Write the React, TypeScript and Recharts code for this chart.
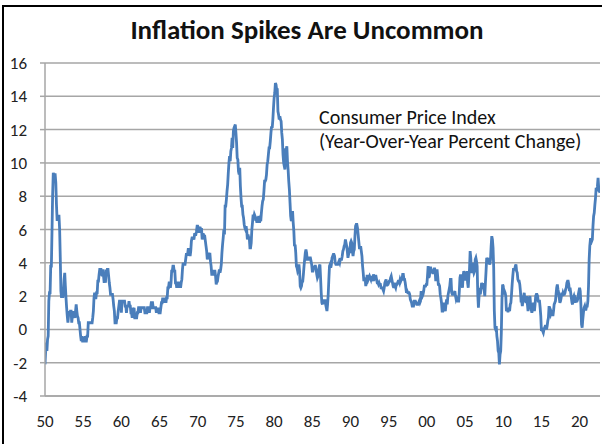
import { LineChart, Line, XAxis, YAxis, CartesianGrid } from 'recharts';

// CPI year-over-year % change, monthly, one array per decade (Jan..Dec)
const cpi1950s = [
  -2.1, -1.3, -0.8, -1.3, -0.6, -0.4, 1.7, 2.2, 2.2, 3.8, 3.8, 5.9,
  8.1, 9.4, 9.3, 9.3, 9.3, 8.8, 7.5, 6.6, 6.6, 6.8, 6.8, 6.0,
  4.3, 2.3, 1.9, 2.3, 1.9, 2.3, 3.0, 3.4, 2.6, 1.9, 1.3, 0.8,
  0.4, 0.8, 1.1, 0.8, 1.1, 1.1, 0.4, 0.8, 0.8, 1.1, 0.8, 0.7,
  1.1, 1.5, 1.1, 0.8, 0.7, 0.4, 0.4, 0.0, -0.4, -0.7, -0.4, -0.7,
  -0.7, -0.7, -0.7, -0.4, -0.7, -0.7, -0.4, -0.4, 0.4, 0.4, 0.4, 0.4,
  0.4, 0.4, 0.4, 0.7, 1.1, 1.9, 2.2, 1.9, 1.9, 2.2, 2.2, 2.9,
  2.9, 3.3, 3.6, 3.6, 3.6, 3.3, 3.2, 3.6, 3.2, 2.8, 3.2, 2.8,
  3.6, 3.2, 3.6, 3.6, 3.2, 2.8, 2.5, 2.1, 2.1, 2.1, 2.1, 1.8,
  1.4, 1.1, 0.4, 0.4, 0.4, 0.7, 0.7, 1.1, 1.4, 1.7, 1.7, 1.7,
];
const cpi1960s = [
  1.0, 1.7, 1.7, 1.7, 1.7, 1.7, 1.4, 1.4, 1.0, 1.4, 1.4, 1.4,
  1.7, 1.4, 1.4, 1.0, 1.0, 0.7, 1.3, 1.0, 1.3, 0.7, 0.7, 0.7,
  0.7, 1.0, 1.0, 1.3, 1.3, 1.3, 1.0, 1.3, 1.3, 1.3, 1.3, 1.3,
  1.3, 1.0, 1.0, 1.0, 1.0, 1.3, 1.3, 1.3, 1.0, 1.3, 1.3, 1.6,
  1.6, 1.6, 1.3, 1.3, 1.3, 1.3, 1.3, 1.0, 1.3, 1.0, 1.3, 1.0,
  1.0, 1.0, 1.3, 1.6, 1.6, 1.9, 1.6, 1.9, 1.6, 1.9, 1.6, 1.9,
  1.9, 2.5, 2.5, 2.8, 2.8, 2.5, 2.8, 3.5, 3.5, 3.8, 3.8, 3.5,
  3.5, 2.8, 2.8, 2.5, 2.8, 2.8, 2.8, 2.5, 2.8, 2.5, 2.8, 3.0,
  3.6, 4.0, 3.9, 3.9, 3.9, 4.2, 4.5, 4.5, 4.5, 4.8, 4.8, 4.7,
  4.4, 4.7, 5.3, 5.5, 5.5, 5.5, 5.4, 5.7, 5.7, 5.7, 5.9, 6.2,
];
const cpi1970s = [
  6.2, 6.1, 5.8, 6.1, 6.1, 6.0, 6.0, 5.4, 5.7, 5.7, 5.6, 5.6,
  5.3, 5.0, 4.7, 4.2, 4.4, 4.6, 4.4, 4.6, 4.1, 3.8, 3.3, 3.3,
  3.3, 3.5, 3.5, 3.5, 3.2, 2.7, 2.9, 2.9, 3.2, 3.4, 3.6, 3.4,
  3.6, 3.9, 4.6, 5.1, 5.5, 6.0, 5.7, 7.4, 7.4, 7.8, 8.3, 8.7,
  9.4, 10.0, 10.4, 10.1, 10.7, 10.9, 11.5, 10.9, 11.9, 12.1, 12.2, 12.3,
  11.8, 11.2, 10.3, 10.2, 9.5, 9.3, 9.7, 8.6, 7.9, 7.4, 7.4, 6.9,
  6.7, 6.3, 6.1, 6.0, 6.2, 5.9, 5.4, 5.7, 5.5, 5.5, 4.9, 4.9,
  5.2, 6.0, 6.4, 6.9, 6.7, 6.9, 6.8, 6.6, 6.6, 6.4, 6.7, 6.7,
  6.8, 6.4, 6.6, 6.5, 7.0, 7.4, 7.7, 7.8, 8.3, 8.9, 8.9, 9.0,
  9.3, 9.9, 10.1, 10.5, 10.9, 10.9, 11.3, 11.8, 12.2, 12.1, 12.6, 13.3,
];
const cpi1980s = [
  13.9, 14.2, 14.8, 14.7, 14.4, 14.4, 13.1, 12.9, 12.6, 12.8, 12.6, 12.5,
  11.8, 11.4, 10.5, 10.0, 9.8, 9.6, 10.8, 10.8, 11.0, 10.1, 9.6, 8.9,
  8.4, 7.6, 6.8, 6.5, 6.7, 7.1, 6.4, 5.9, 5.0, 5.1, 4.6, 3.8,
  3.7, 3.5, 3.6, 3.9, 3.5, 2.6, 2.5, 2.6, 2.9, 2.9, 3.3, 3.8,
  4.2, 4.6, 4.8, 4.6, 4.2, 4.2, 4.2, 4.3, 4.3, 4.3, 4.1, 3.9,
  3.5, 3.5, 3.7, 3.7, 3.8, 3.8, 3.6, 3.3, 3.1, 3.2, 3.5, 3.8,
  3.9, 3.1, 2.2, 1.6, 1.5, 1.8, 1.6, 1.6, 1.8, 1.5, 1.3, 1.1,
  1.5, 2.1, 3.0, 3.8, 3.9, 3.7, 3.9, 4.3, 4.4, 4.5, 4.5, 4.4,
  4.0, 3.9, 3.9, 3.9, 3.9, 4.0, 4.1, 4.0, 4.2, 4.2, 4.2, 4.4,
  4.7, 4.8, 5.0, 5.1, 5.4, 5.2, 5.0, 4.7, 4.3, 4.5, 4.7, 4.6,
];
const cpi1990s = [
  5.2, 5.3, 5.2, 4.7, 4.4, 4.7, 4.8, 5.6, 6.2, 6.3, 6.3, 6.1,
  5.7, 5.3, 4.9, 4.9, 5.0, 4.7, 4.4, 3.8, 3.4, 2.9, 3.0, 3.1,
  2.6, 2.8, 3.2, 3.2, 3.0, 3.1, 3.2, 3.1, 3.0, 3.2, 3.0, 2.9,
  3.3, 3.2, 3.1, 3.2, 3.2, 3.0, 2.8, 2.8, 2.7, 2.8, 2.7, 2.7,
  2.5, 2.5, 2.5, 2.4, 2.3, 2.5, 2.8, 2.9, 3.0, 2.6, 2.7, 2.7,
  2.8, 2.9, 2.9, 3.1, 3.2, 3.0, 2.8, 2.6, 2.5, 2.8, 2.6, 2.5,
  2.7, 2.7, 2.8, 2.9, 2.9, 2.8, 3.0, 2.9, 3.0, 3.0, 3.3, 3.3,
  3.0, 3.0, 2.8, 2.5, 2.2, 2.3, 2.2, 2.2, 2.2, 2.1, 1.8, 1.7,
  1.6, 1.4, 1.4, 1.4, 1.7, 1.7, 1.7, 1.6, 1.5, 1.5, 1.5, 1.6,
  1.7, 1.6, 1.7, 2.3, 2.1, 2.0, 2.1, 2.3, 2.6, 2.6, 2.6, 2.7,
];
const cpi2000s = [
  2.7, 3.2, 3.8, 3.1, 3.2, 3.7, 3.7, 3.4, 3.5, 3.4, 3.4, 3.4,
  3.7, 3.5, 2.9, 3.3, 3.6, 3.2, 2.7, 2.7, 2.6, 2.1, 1.9, 1.6,
  1.1, 1.1, 1.5, 1.6, 1.2, 1.1, 1.5, 1.8, 1.5, 2.0, 2.2, 2.4,
  2.6, 3.0, 3.0, 2.2, 2.1, 2.1, 2.1, 2.2, 2.3, 2.0, 1.8, 1.9,
  1.9, 1.7, 1.7, 2.3, 3.1, 3.3, 3.0, 2.7, 2.5, 3.2, 3.5, 3.3,
  3.0, 3.0, 3.1, 3.5, 2.8, 2.5, 3.2, 3.6, 4.7, 4.3, 3.5, 3.4,
  4.0, 3.6, 3.4, 3.5, 4.2, 4.3, 4.1, 3.8, 2.1, 1.3, 2.0, 2.5,
  2.1, 2.4, 2.8, 2.6, 2.7, 2.7, 2.4, 2.0, 2.8, 3.5, 4.3, 4.1,
  4.3, 4.0, 4.0, 3.9, 4.2, 5.0, 5.6, 5.4, 4.9, 3.7, 1.1, 0.1,
  0.0, 0.2, -0.4, -0.7, -1.3, -1.4, -2.1, -1.5, -1.3, -0.2, 1.8, 2.7,
];
const cpi2010s = [
  2.6, 2.1, 2.3, 2.2, 2.0, 1.1, 1.2, 1.1, 1.1, 1.2, 1.1, 1.5,
  1.6, 2.1, 2.7, 3.2, 3.6, 3.6, 3.6, 3.8, 3.9, 3.5, 3.4, 3.0,
  2.9, 2.9, 2.7, 2.3, 1.7, 1.7, 1.4, 1.7, 2.0, 2.2, 1.8, 1.7,
  1.6, 2.0, 1.5, 1.1, 1.4, 1.8, 2.0, 1.5, 1.2, 1.0, 1.2, 1.5,
  1.6, 1.1, 1.5, 2.0, 2.1, 2.1, 2.0, 1.7, 1.7, 1.7, 1.3, 0.8,
  -0.1, 0.0, -0.1, -0.2, 0.0, 0.1, 0.2, 0.2, 0.0, 0.2, 0.5, 0.7,
  1.4, 1.0, 0.9, 1.1, 1.0, 1.0, 0.8, 1.1, 1.5, 1.6, 1.7, 2.1,
  2.5, 2.7, 2.4, 2.2, 1.9, 1.6, 1.7, 1.9, 2.2, 2.0, 2.2, 2.1,
  2.1, 2.2, 2.4, 2.5, 2.8, 2.9, 2.9, 2.7, 2.3, 2.5, 2.2, 1.9,
  1.6, 1.5, 1.9, 2.0, 1.8, 1.6, 1.8, 1.7, 1.7, 1.8, 2.1, 2.3,
];
const cpi2020s = [
  2.5, 2.3, 1.5, 0.3, 0.1, 0.6, 1.0, 1.3, 1.4, 1.2, 1.2, 1.4,
  1.4, 1.7, 2.6, 4.2, 5.0, 5.4, 5.4, 5.3, 5.4, 6.2, 6.8, 7.0,
  7.5, 7.9, 8.5, 8.3, 8.6, 9.1, 8.5, 8.3, 8.2,
];

const startYear = 1950;
const xTicks = [1950, 1955, 1960, 1965, 1970, 1975, 1980, 1985, 1990, 1995, 2000, 2005, 2010, 2015, 2020];
const yTicks = [-4, -2, 0, 2, 4, 6, 8, 10, 12, 14, 16];

const data = [cpi1950s, cpi1960s, cpi1970s, cpi1980s, cpi1990s, cpi2000s, cpi2010s, cpi2020s]
  .flat()
  .map((v, i) => ({ t: startYear + i / 12, cpi: v }));

const font = 'Calibri, Carlito, Lato, sans-serif';

export default function App() {
  return (
    <div style={{ position: 'absolute', left: 0, top: 0, width: 602, height: 444, background: '#fff', fontFamily: font }}>
      <div style={{ position: 'absolute', left: 2, top: 5, width: 2, height: 439, background: '#000' }} />
      <div style={{ position: 'absolute', left: 2, top: 5, width: 600, height: 2, background: '#000' }} />
      <div
        style={{
          position: 'absolute', left: 0, width: 614, top: 14, textAlign: 'center',
          fontSize: 27, lineHeight: '32px', fontWeight: 700, color: '#111',
        }}
      >
        Inflation Spikes Are Uncommon
      </div>
      <div style={{ position: 'absolute', left: 319, top: 105, fontSize: 20, lineHeight: '24px', color: '#111' }}>
        Consumer Price Index
        <br />
        (Year-Over-Year Percent Change)
      </div>
      <LineChart width={602} height={444} data={data} margin={{ top: 63, right: 2, bottom: 0, left: 5 }}>
        <CartesianGrid vertical={false} stroke="#a6a6a6" strokeWidth={1.5} />
        <XAxis
          dataKey="t"
          type="number"
          domain={[1950, 2022.67]}
          ticks={xTicks}
          allowDataOverflow
          tickFormatter={(v: number) => String(v % 100).padStart(2, '0')}
          tick={{ fontSize: 17, fill: '#222', fontFamily: font }}
          tickLine={false}
          tickSize={0}
          axisLine={{ stroke: '#a6a6a6', strokeWidth: 1.5 }}
          tickMargin={19}
          height={48}
        />
        <YAxis
          domain={[-4, 16]}
          ticks={yTicks}
          width={40}
          tick={{ fontSize: 17, fill: '#222', fontFamily: font }}
          tickLine={{ stroke: '#a6a6a6', strokeWidth: 1.5 }}
          tickSize={5}
          tickMargin={13}
          axisLine={{ stroke: '#a6a6a6', strokeWidth: 1.5 }}
        />
        <Line
          type="linear"
          dataKey="cpi"
          stroke="#4a7ebb"
          strokeWidth={2.8}
          dot={false}
          isAnimationActive={false}
        />
      </LineChart>
    </div>
  );
}
